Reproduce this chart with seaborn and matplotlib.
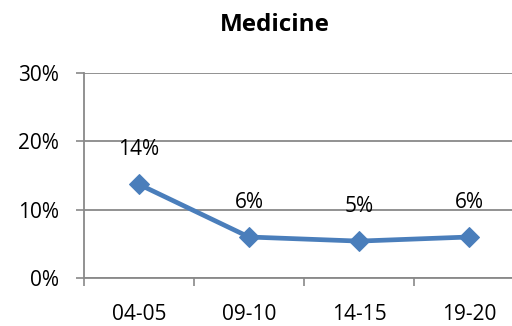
import matplotlib
matplotlib.use("Agg")
import matplotlib.pyplot as plt
import seaborn as sns
import pandas as pd
from matplotlib.ticker import FixedLocator, PercentFormatter

periods = ["04-05", "09-10", "14-15", "19-20"]
share = [0.137, 0.060, 0.054, 0.060]
labels = ["14%", "6%", "5%", "6%"]
yticks = [0.0, 0.10, 0.20, 0.30]

sns.set_theme(style="white")
plt.rcParams['font.family'] = ['Open Sans', 'DejaVu Sans']

df = pd.DataFrame({"period": periods, "share": share})

fig = plt.figure(figsize=(5.12, 3.26), dpi=100)
ax = fig.add_axes([84/512, 48/326, 440/512, 205/326])

blue = "#4A7EBB"
grey = "#898989"
fs = 15

sns.lineplot(data=df, x="period", y="share", ax=ax, color=blue, linewidth=3.4,
             marker="D", markersize=10, markeredgecolor=blue, sort=False)

for i, (v, t) in enumerate(zip(share, labels)):
    ax.annotate(t, (i, v), xytext=(0, 25), textcoords="offset points",
                ha="center", va="center", fontsize=fs, color="black")

ax.set_xlim(-0.5, 3.5)
ax.set_ylim(0, 0.30)
ax.set_yticks(yticks)
ax.yaxis.set_major_formatter(PercentFormatter(1.0, decimals=0))
ax.xaxis.set_minor_locator(FixedLocator([-0.5, 0.5, 1.5, 2.5, 3.5]))
ax.tick_params(axis="x", which="major", length=0, pad=19, labelsize=fs, colors="black")
ax.tick_params(axis="x", which="minor", length=6, width=1.2, color=grey, direction="out", bottom=True)
ax.tick_params(axis="y", which="major", length=6, width=1.2, color=grey, direction="out",
               left=True, pad=12, labelsize=fs, labelcolor="black")
ax.set_xlabel("")
ax.set_ylabel("")
ax.grid(axis="y", color=grey, linewidth=1.3)
ax.grid(axis="x", visible=False)
for s in ["top", "right"]:
    ax.spines[s].set_visible(False)
for s in ["left", "bottom"]:
    ax.spines[s].set_color(grey)
    ax.spines[s].set_linewidth(1.3)

fig.text(275/512, 1 - 31/326, "Medicine", ha="center", va="baseline",
         fontsize=17.5, fontweight="bold", color="black")

fig.savefig("out.png", dpi=100)
